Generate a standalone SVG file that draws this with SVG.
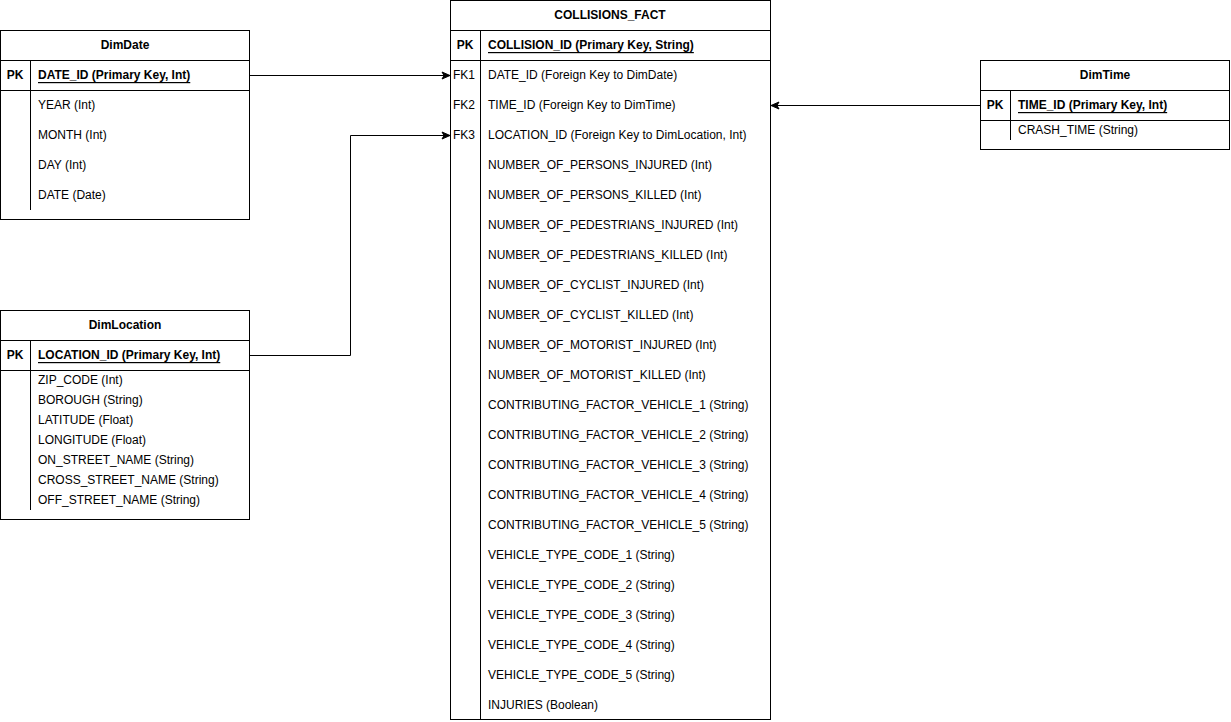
<svg xmlns="http://www.w3.org/2000/svg" width="1231" height="722" viewBox="0 0 1231 722">
<defs>
<style>
text{font-family:"Liberation Sans",Arial,Helvetica,sans-serif;font-size:12px;fill:#000;dominant-baseline:central}
.t{font-weight:bold;text-anchor:middle}
.k{font-weight:bold;text-anchor:middle}
.fk{text-anchor:middle}
.pk{font-weight:bold;text-decoration:underline}
.box{fill:#fff;stroke:#000;stroke-width:1}
.ln{stroke:#000;stroke-width:1;fill:none}
.edge{stroke:#000;stroke-width:1;fill:none;marker-end:url(#arr)}
</style>
<marker id="arr" markerWidth="10" markerHeight="10" refX="9" refY="5" orient="auto" markerUnits="userSpaceOnUse">
<path d="M1,1.5 L9,5 L1,8.5 L3,5 Z" fill="#000" stroke="#000" stroke-width="1"/>
</marker>
</defs>
<rect width="1231" height="722" fill="#fff"/>

<g id="DimDate">
<rect class="box" x="0.5" y="30.5" width="249" height="189"/>
<line class="ln" x1="0.5" y1="60.5" x2="249.5" y2="60.5"/>
<line class="ln" x1="0.5" y1="90.5" x2="249.5" y2="90.5"/>
<line class="ln" x1="30.5" y1="60.5" x2="30.5" y2="210"/>
<text class="t" x="125" y="45">DimDate</text>
<text class="k" x="15" y="75">PK</text>
<text class="pk" x="38" y="75">DATE_ID (Primary Key, Int)</text>
<text x="38" y="105">YEAR (Int)</text>
<text x="38" y="135">MONTH (Int)</text>
<text x="38" y="165">DAY (Int)</text>
<text x="38" y="195">DATE (Date)</text>
</g>

<g id="DimLocation">
<rect class="box" x="0.5" y="310.5" width="249" height="209"/>
<line class="ln" x1="0.5" y1="340.5" x2="249.5" y2="340.5"/>
<line class="ln" x1="0.5" y1="370.5" x2="249.5" y2="370.5"/>
<line class="ln" x1="30.5" y1="340.5" x2="30.5" y2="510"/>
<text class="t" x="125" y="325">DimLocation</text>
<text class="k" x="15" y="355">PK</text>
<text class="pk" x="38" y="355">LOCATION_ID (Primary Key, Int)</text>
<text x="38" y="380">ZIP_CODE (Int)</text>
<text x="38" y="400">BOROUGH (String)</text>
<text x="38" y="420">LATITUDE (Float)</text>
<text x="38" y="440">LONGITUDE (Float)</text>
<text x="38" y="460">ON_STREET_NAME (String)</text>
<text x="38" y="480">CROSS_STREET_NAME (String)</text>
<text x="38" y="500">OFF_STREET_NAME (String)</text>
</g>

<g id="DimTime">
<rect class="box" x="980.5" y="60.5" width="249" height="89"/>
<line class="ln" x1="980.5" y1="90.5" x2="1229.5" y2="90.5"/>
<line class="ln" x1="980.5" y1="120.5" x2="1229.5" y2="120.5"/>
<line class="ln" x1="1010.5" y1="90.5" x2="1010.5" y2="140"/>
<text class="t" x="1105" y="75">DimTime</text>
<text class="k" x="995" y="105">PK</text>
<text class="pk" x="1018" y="105">TIME_ID (Primary Key, Int)</text>
<text x="1018" y="130">CRASH_TIME (String)</text>
</g>

<g id="COLLISIONS_FACT">
<rect class="box" x="450.5" y="0.5" width="320" height="719"/>
<line class="ln" x1="450.5" y1="30.5" x2="770.5" y2="30.5"/>
<line class="ln" x1="450.5" y1="60.5" x2="770.5" y2="60.5"/>
<line class="ln" x1="480.5" y1="30.5" x2="480.5" y2="719.5"/>
<text class="t" x="610" y="15">COLLISIONS_FACT</text>
<text class="k" x="465" y="45">PK</text>
<text class="pk" x="488" y="45">COLLISION_ID (Primary Key, String)</text>
<text class="fk" x="464" y="75">FK1</text>
<text class="fk" x="464" y="105">FK2</text>
<text class="fk" x="464" y="135">FK3</text>
<text x="488" y="75">DATE_ID (Foreign Key to DimDate)</text>
<text x="488" y="105">TIME_ID (Foreign Key to DimTime)</text>
<text x="488" y="135">LOCATION_ID (Foreign Key to DimLocation, Int)</text>
<text x="488" y="165">NUMBER_OF_PERSONS_INJURED (Int)</text>
<text x="488" y="195">NUMBER_OF_PERSONS_KILLED (Int)</text>
<text x="488" y="225">NUMBER_OF_PEDESTRIANS_INJURED (Int)</text>
<text x="488" y="255">NUMBER_OF_PEDESTRIANS_KILLED (Int)</text>
<text x="488" y="285">NUMBER_OF_CYCLIST_INJURED (Int)</text>
<text x="488" y="315">NUMBER_OF_CYCLIST_KILLED (Int)</text>
<text x="488" y="345">NUMBER_OF_MOTORIST_INJURED (Int)</text>
<text x="488" y="375">NUMBER_OF_MOTORIST_KILLED (Int)</text>
<text x="488" y="405">CONTRIBUTING_FACTOR_VEHICLE_1 (String)</text>
<text x="488" y="435">CONTRIBUTING_FACTOR_VEHICLE_2 (String)</text>
<text x="488" y="465">CONTRIBUTING_FACTOR_VEHICLE_3 (String)</text>
<text x="488" y="495">CONTRIBUTING_FACTOR_VEHICLE_4 (String)</text>
<text x="488" y="525">CONTRIBUTING_FACTOR_VEHICLE_5 (String)</text>
<text x="488" y="555">VEHICLE_TYPE_CODE_1 (String)</text>
<text x="488" y="585">VEHICLE_TYPE_CODE_2 (String)</text>
<text x="488" y="615">VEHICLE_TYPE_CODE_3 (String)</text>
<text x="488" y="645">VEHICLE_TYPE_CODE_4 (String)</text>
<text x="488" y="675">VEHICLE_TYPE_CODE_5 (String)</text>
<text x="488" y="705">INJURIES (Boolean)</text>
</g>

<g id="connectors">
<path class="edge" d="M250,75.5 L450,75.5"/>
<path class="edge" d="M250,355.5 L350.5,355.5 L350.5,135.5 L450,135.5"/>
<path class="edge" d="M980,105.5 L771,105.5"/>
</g>
</svg>
